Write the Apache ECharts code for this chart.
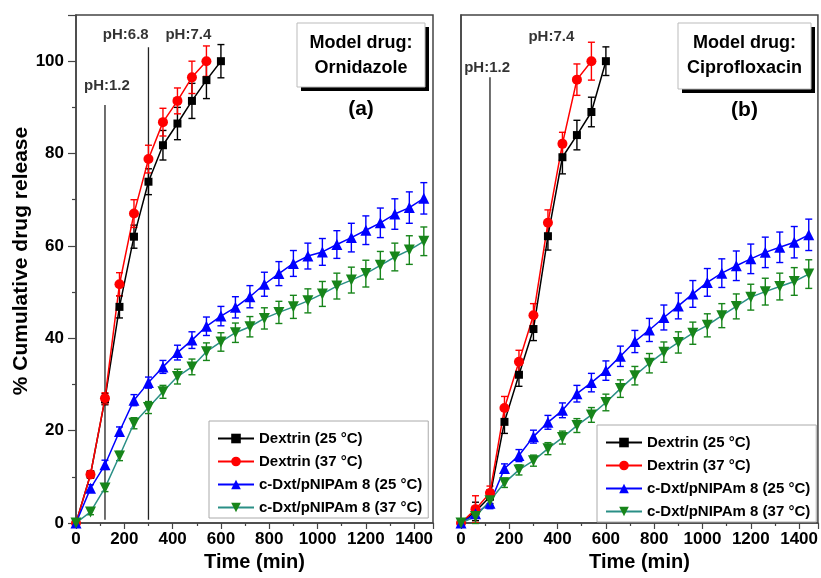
<!DOCTYPE html>
<html>
<head>
<meta charset="utf-8">
<script src="https://cdn.jsdelivr.net/npm/echarts@6/dist/echarts.min.js"></script>
<style>html,body{margin:0;padding:0;background:#fff;}#c{width:821px;height:578px;}</style>
</head>
<body>
<div id="c"></div>
<script>
// ---------- data ----------
const xTicks = [0, 200, 400, 600, 800, 1000, 1200, 1400];
const yTicks = [0, 20, 40, 60, 80, 100];
const seriesNames = ['Dextrin (25 °C)', 'Dextrin (37 °C)', 'c-Dxt/pNIPAm 8 (25 °C)', 'c-Dxt/pNIPAm 8 (37 °C)'];

// Panel (a) Ornidazole
const tDex25A = [0, 60, 120, 180, 240, 300, 360, 420, 480, 540, 600];
const dex25A = [0, 10.5, 26.8, 46.8, 62.0, 73.9, 81.8, 86.5, 91.4, 95.9, 100];
const dex25AErr = [0, 0.8, 1.2, 2.4, 2.5, 2.8, 3.2, 3.5, 3.8, 4.0, 3.6];
const tDex37A = [0, 60, 120, 180, 240, 300, 360, 420, 480, 540];
const dex37A = [0, 10.5, 27.0, 51.7, 67.0, 78.8, 86.8, 91.4, 96.5, 100];
const dex37AErr = [0, 0.8, 1.2, 2.5, 3.0, 3.0, 3.0, 2.8, 3.5, 3.3];
const tGel = [0, 60, 120, 180, 240, 300, 360, 420, 480, 540, 600, 660, 720, 780, 840, 900, 960, 1020, 1080, 1140, 1200, 1260, 1320, 1380, 1440];
const gel25A = [0, 7.5, 12.6, 19.8, 26.6, 30.4, 33.8, 36.9, 39.6, 42.6, 44.8, 46.7, 49.0, 51.7, 54.0, 56.2, 57.8, 58.7, 60.3, 61.8, 63.4, 65.0, 66.9, 68.3, 70.3];
const gel25AErr = [0, 0.8, 1.0, 1.0, 1.2, 1.2, 1.4, 1.6, 1.8, 2.0, 2.1, 2.3, 2.4, 2.6, 2.6, 2.8, 2.8, 2.9, 3.0, 3.1, 3.1, 3.2, 3.3, 3.4, 3.4];
const gel37A = [0, 2.4, 7.6, 14.5, 21.6, 25.0, 28.4, 31.7, 33.8, 37.1, 39.2, 41.2, 42.5, 44.3, 45.6, 46.8, 48.1, 49.6, 51.3, 52.6, 54.0, 55.8, 57.6, 59.1, 61.0];
const gel37AErr = [0, 0.6, 0.8, 1.0, 1.2, 1.3, 1.4, 1.6, 1.7, 1.9, 2.0, 2.1, 2.2, 2.3, 2.4, 2.5, 2.6, 2.7, 2.8, 2.8, 2.9, 3.0, 3.0, 3.1, 3.1];

// Panel (b) Ciprofloxacin
const tDex25B = [0, 60, 120, 180, 240, 300, 360, 420, 480, 540, 600];
const dex25B = [0, 2.5, 5.7, 21.9, 32.1, 42.0, 62.1, 79.2, 84.0, 89.0, 100];
const dex25BErr = [0, 2.0, 1.5, 2.5, 2.5, 2.5, 3.0, 3.6, 3.2, 3.2, 3.1];
const tDex37B = [0, 60, 120, 180, 240, 300, 360, 420, 480, 540];
const dex37B = [0, 3.0, 6.5, 24.9, 34.9, 45.0, 65.0, 82.1, 96.0, 100];
const dex37BErr = [0, 2.9, 1.5, 2.5, 2.5, 2.5, 2.8, 2.5, 3.4, 4.1];
const gel25B = [0, 2.0, 4.3, 11.8, 14.6, 18.7, 21.8, 24.4, 28.0, 30.4, 33.0, 36.1, 39.3, 41.8, 44.5, 47.0, 49.6, 52.1, 54.1, 55.7, 57.2, 58.6, 59.7, 60.8, 62.4];
const gel25BErr = [0, 1.0, 1.2, 1.0, 1.3, 1.4, 1.5, 1.6, 1.8, 2.0, 2.1, 2.2, 2.4, 2.5, 2.7, 2.8, 2.9, 3.0, 3.1, 3.2, 3.2, 3.3, 3.3, 3.4, 3.4];
const gel37B = [0, 1.4, 4.8, 8.7, 11.5, 13.5, 16.1, 18.5, 21.1, 23.4, 26.1, 29.1, 31.9, 34.6, 37.0, 39.1, 41.1, 42.8, 44.9, 46.9, 48.9, 50.1, 51.2, 52.3, 53.9];
const gel37BErr = [0, 1.5, 1.0, 1.0, 1.1, 1.2, 1.3, 1.4, 1.5, 1.6, 1.8, 1.9, 2.0, 2.1, 2.2, 2.3, 2.4, 2.5, 2.6, 2.7, 2.8, 2.9, 2.9, 3.0, 3.1];

// pH annotation lines and labels (time, bottom value, top value)
const phLineTimeA = [120, 300];
const phLineBottomA = [0.7, 0.7];
const phLineTopA = [90.5, 103];
const phLineTimeB = [120];
const phLineBottomB = [7];
const phLineTopB = [96.5];
const phLabelTextA = ['pH:1.2', 'pH:6.8', 'pH:7.4'];
const phLabelTimeA = [128, 206, 465];
const phLabelValueA = [94.7, 105.7, 105.7];
const phLabelTextB = ['pH:1.2', 'pH:7.4'];
const phLabelTimeB = [108, 374];
const phLabelValueB = [98.5, 105.3];

// ---------- styles ----------
const FONT = '"Liberation Sans", Arial, sans-serif';
const triDown = 'path://M0,0 L10,0 L5,9 Z';
const styles = [
  {line: '#000000', mark: '#000000', symbol: 'rect', size: 8},
  {line: '#ff0000', mark: '#ff0000', symbol: 'circle', size: 10},
  {line: '#0000ff', mark: '#0000ff', symbol: 'triangle', size: 11},
  {line: '#2a8f86', mark: '#17851a', symbol: triDown, size: 11}
];

function zip(t, v, e) { return t.map((x, i) => e ? [x, v[i], e[i]] : [x, v[i]]); }

function errRender(params, api) {
  const x = api.value(0), y = api.value(1), e = api.value(2);
  if (!e) return null;
  const top = api.coord([x, y + e]);
  const bot = api.coord([x, y - e]);
  const w = 3.5;
  const style = {stroke: api.visual('color'), lineWidth: 1.4, fill: null};
  return {type: 'group', children: [
    {type: 'line', shape: {x1: top[0], y1: top[1], x2: bot[0], y2: bot[1]}, style: style},
    {type: 'line', shape: {x1: top[0] - w, y1: top[1], x2: top[0] + w, y2: top[1]}, style: style},
    {type: 'line', shape: {x1: bot[0] - w, y1: bot[1], x2: bot[0] + w, y2: bot[1]}, style: style}
  ]};
}

const series = [];
function addPanel(idx, sets, phT, phB, phTop, labT, labV, labTxt) {
  phT.forEach((t, i) => {
    series.push({type: 'line', xAxisIndex: idx, yAxisIndex: idx, silent: true, symbol: 'none', z: 1,
      lineStyle: {color: '#222', width: 1.3}, data: [[t, phB[i]], [t, phTop[i]]], name: 'ph' + idx + i});
  });
  series.push({type: 'scatter', xAxisIndex: idx, yAxisIndex: idx, silent: true, symbolSize: 0, z: 5,
    name: 'phl' + idx,
    data: labT.map((t, i) => [t, labV[i], labTxt[i]]),
    label: {show: true, position: 'inside', formatter: p => p.value[2], color: '#000',
      fontFamily: FONT, fontWeight: 'bold', fontSize: 15}});
  sets.forEach((s, k) => {
    const st = styles[k];
    series.push({type: 'custom', xAxisIndex: idx, yAxisIndex: idx, name: 'err' + idx + k, silent: true, z: 3,
      itemStyle: {color: st.mark}, renderItem: errRender, data: zip(s.t, s.v, s.e), encode: {x: 0, y: 1}});
    series.push({type: 'line', xAxisIndex: idx, yAxisIndex: idx, name: seriesNames[k], z: 4,
      symbol: st.symbol, symbolSize: st.size, showAllSymbol: true,
      lineStyle: {color: st.line, width: 1.5}, itemStyle: {color: st.mark},
      data: zip(s.t, s.v)});
  });
}

addPanel(0, [
  {t: tDex25A, v: dex25A, e: dex25AErr},
  {t: tDex37A, v: dex37A, e: dex37AErr},
  {t: tGel, v: gel25A, e: gel25AErr},
  {t: tGel, v: gel37A, e: gel37AErr}
], phLineTimeA, phLineBottomA, phLineTopA, phLabelTimeA, phLabelValueA, phLabelTextA);
addPanel(1, [
  {t: tDex25B, v: dex25B, e: dex25BErr},
  {t: tDex37B, v: dex37B, e: dex37BErr},
  {t: tGel, v: gel25B, e: gel25BErr},
  {t: tGel, v: gel37B, e: gel37BErr}
], phLineTimeB, phLineBottomB, phLineTopB, phLabelTimeB, phLabelValueB, phLabelTextB);

function xAxis(idx) {
  return {type: 'value', gridIndex: idx, min: xTicks[0], max: 1478, interval: xTicks[1] - xTicks[0],
    name: 'Time (min)', nameLocation: 'middle', nameGap: 27,
    nameTextStyle: {fontFamily: FONT, fontWeight: 'bold', fontSize: 20, color: '#000'},
    axisLine: {show: true, lineStyle: {color: '#444', width: 1.5}},
    axisTick: {show: true, inside: false, length: 6, lineStyle: {color: '#444', width: 1.2}},
    minorTick: {show: true, splitNumber: 2, length: 3, lineStyle: {color: '#444', width: 1.2}},
    splitLine: {show: false},
    axisLabel: {showMaxLabel: false, margin: 8, formatter: v => String(v),
      fontFamily: FONT, fontWeight: 'bold', fontSize: 17, color: '#000'}};
}
function yAxis(idx, labels) {
  return {type: 'value', gridIndex: idx, min: yTicks[0], max: 110, interval: yTicks[1] - yTicks[0],
    name: labels ? '% Cumulative drug release' : '', nameLocation: 'middle', nameGap: 39,
    nameTextStyle: {fontFamily: FONT, fontWeight: 'bold', fontSize: 21, color: '#000', padding: [0, 0, 0, 16]},
    axisLine: {show: true, lineStyle: {color: '#444', width: 1.5}},
    axisTick: {show: labels, inside: false, length: 8, lineStyle: {color: '#444', width: 1.2}},
    minorTick: {show: labels, splitNumber: 2, length: 4, lineStyle: {color: '#444', width: 1.2}},
    splitLine: {show: false},
    axisLabel: {show: labels, showMaxLabel: false, margin: 12, formatter: v => String(v),
      fontFamily: FONT, fontWeight: 'bold', fontSize: 17, color: '#000'}};
}

function legend(left, top) {
  return {data: seriesNames, left: left, top: top, orient: 'vertical', itemWidth: 36, itemHeight: 12, itemGap: 8,
    padding: [10, 6, 3, 8], borderColor: '#aaa', borderWidth: 1, backgroundColor: '#fff',
    selectedMode: false,
    textStyle: {fontFamily: FONT, fontWeight: 'bold', fontSize: 15, lineHeight: 14, color: '#000'}};
}

function drugBox(x, y, w, h, line1, line2, tag, tagY) {
  return [
    {type: 'rect', shape: {x: x + 4, y: y + 4, width: w, height: h}, style: {fill: '#000'}, z: 10},
    {type: 'rect', shape: {x: x, y: y, width: w, height: h}, style: {fill: '#fff', stroke: '#bbb', lineWidth: 1}, z: 11},
    {type: 'text', x: x + w / 2, y: y + 20, z: 12, style: {text: line1, align: 'center', verticalAlign: 'middle',
      font: 'bold 18px ' + FONT, fill: '#000'}},
    {type: 'text', x: x + w / 2, y: y + 45, z: 12, style: {text: line2, align: 'center', verticalAlign: 'middle',
      font: 'bold 18px ' + FONT, fill: '#000'}},
    {type: 'text', x: x + w / 2, y: tagY, z: 12, style: {text: tag, align: 'center', verticalAlign: 'middle',
      font: 'bold 21px ' + FONT, fill: '#000'}}
  ];
}

const chart = echarts.init(document.getElementById('c'), null, {renderer: 'canvas'});
chart.setOption({
  backgroundColor: '#fff',
  animation: false,
  grid: [
    {left: 76, top: 15, width: 357, height: 508, show: true, borderColor: '#444', borderWidth: 1.5, backgroundColor: 'transparent'},
    {left: 461, top: 15, width: 357, height: 508, show: true, borderColor: '#444', borderWidth: 1.5, backgroundColor: 'transparent'}
  ],
  xAxis: [xAxis(0), xAxis(1)],
  yAxis: [yAxis(0, true), yAxis(1, false)],
  legend: [legend(209, 421), legend(597, 425)],
  graphic: [].concat(
    drugBox(297, 23, 128, 64, 'Model drug:', 'Ornidazole', '(a)', 109),
    drugBox(678, 23, 133, 66, 'Model drug:', 'Ciprofloxacin', '(b)', 110)
  ),
  series: series
});
</script>
</body>
</html>
